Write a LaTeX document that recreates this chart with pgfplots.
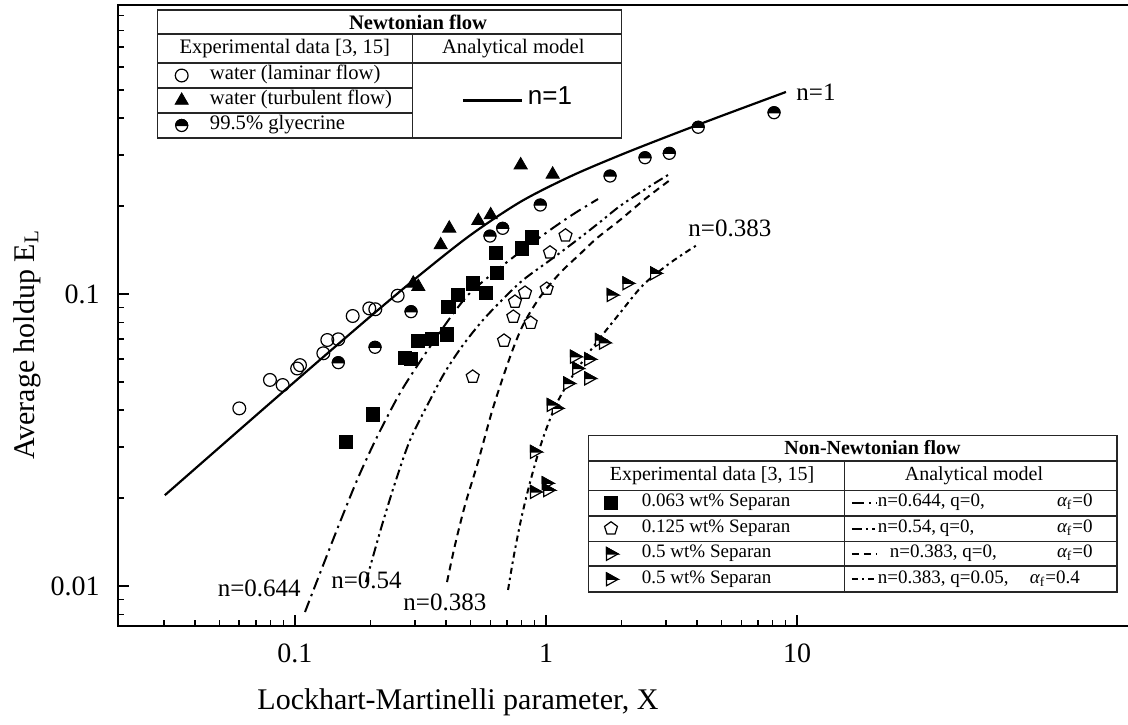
\documentclass[border=0pt]{standalone}
\usepackage{fontspec}
\setmainfont{Liberation Serif}
\newfontfamily\arialfont{Liberation Sans}
\usepackage{pgfplots}
\pgfplotsset{compat=1.18}

% right-pointing triangle with the upper half filled
\pgfdeclareplotmark{halftri}{%
  \pgfsetfillcolor{white}%
  \pgfpathmoveto{\pgfqpoint{1.1\pgfplotmarksize}{0pt}}%
  \pgfpathlineto{\pgfqpoint{-0.7\pgfplotmarksize}{\pgfplotmarksize}}%
  \pgfpathlineto{\pgfqpoint{-0.7\pgfplotmarksize}{-\pgfplotmarksize}}%
  \pgfpathclose
  \pgfusepathqfillstroke
  \pgfsetfillcolor{black}%
  \pgfpathmoveto{\pgfqpoint{1.1\pgfplotmarksize}{0pt}}%
  \pgfpathlineto{\pgfqpoint{-0.7\pgfplotmarksize}{\pgfplotmarksize}}%
  \pgfpathlineto{\pgfqpoint{-0.7\pgfplotmarksize}{0pt}}%
  \pgfpathclose
  \pgfusepathqfillstroke
}
% circle with the upper half filled
\pgfdeclareplotmark{halfcirc}{%
  \pgfsetfillcolor{white}%
  \pgfpathcircle{\pgfpointorigin}{\pgfplotmarksize}%
  \pgfusepathqfillstroke
  \pgfsetfillcolor{black}%
  \pgfpathmoveto{\pgfqpoint{\pgfplotmarksize}{0pt}}%
  \pgfpatharc{0}{180}{\pgfplotmarksize}%
  \pgfpathclose
  \pgfusepathqfillstroke
}

\pgfplotsset{
  every axis/.append style={
    scale only axis, width=511pt, height=310.5pt,
    xmin=0.01972, xmax=232.5, ymin=0.0073, ymax=0.9766,
    xtick={0.1,1,10}, xticklabels={0.1,1,10},
    minor xtick={0.03,0.04,0.05,0.06,0.07,0.08,0.09,0.2,0.3,0.4,0.5,0.6,0.7,0.8,0.9,2,3,4,5,6,7,8,9},
    ytick={0.01,0.1}, yticklabels={0.01,0.1},
    minor ytick={0.008,0.009,0.02,0.03,0.04,0.05,0.06,0.07,0.08,0.09,0.2,0.3,0.4,0.5,0.6,0.7,0.8,0.9},
    tick align=inside, xtick pos=left, ytick pos=left,
    major tick length=5.5pt, minor tick length=2.8pt,
    major tick style={black, line width=0.8pt},
    minor tick style={black, line width=0.8pt},
    axis line style={line width=1pt},
    tick label style={font=\fontsize{14}{16}\selectfont},
    xticklabel style={anchor=center, yshift=-13.5pt},
    yticklabel style={anchor=east, inner sep=0pt, xshift=-9pt},
    legend cell align=left,
  },
  nwimg/.style={legend image code/.code={%
      \path[draw=none, fill=none] (0pt,-5pt) rectangle (26.35pt,5pt);
      \draw[##1] plot coordinates {(12.2pt,0pt)};}},
  nnimg/.style={legend image code/.code={%
      \path[draw=none, fill=none] (0pt,-5pt) rectangle (26.7pt,5pt);
      \draw[##1] plot coordinates {(11.2pt,0pt)};}},
  nwline/.style={legend image code/.code={%
      \path[draw=none, fill=none] (0pt,-5pt) rectangle (57.85pt,5pt);
      \draw[##1] (25.35pt,0pt) -- (54.7pt,0pt);}},
  nnline/.style={legend image code/.code={%
      \path[draw=none, fill=none] (0pt,-5pt) rectangle (16.75pt,5pt);
      \draw[##1] (3.75pt,0pt) -- (16.25pt,0pt);}},
  lamst/.style={only marks, mark=o, mark size=3.2pt, mark options={fill=white, line width=0.6pt}},
  turst/.style={only marks, mark=triangle*, mark size=3.8pt, mark options={fill=black}},
  glyst/.style={only marks, mark=halfcirc, mark size=3.0pt, mark options={line width=0.6pt}},
  sqst/.style={only marks, mark=square*, mark size=3.3pt, mark options={fill=black}},
  pentst/.style={only marks, mark=pentagon, mark size=3.4pt, mark options={fill=white, line width=0.6pt}},
  trist/.style={only marks, mark=halftri, mark size=3.2pt, mark options={line width=0.6pt}},
  cA/.style={black, line width=1pt, dash pattern=on 6pt off 2.5pt on 1.2pt off 2.5pt},
  cB/.style={black, line width=1pt, dash pattern=on 5pt off 2pt on 1.2pt off 2pt on 1.2pt off 2pt},
  cC/.style={black, line width=1pt, dash pattern=on 3.5pt off 2.5pt},
  cD/.style={black, line width=1pt, dash pattern=on 3pt off 2pt on 1.2pt off 2pt},
}

\begin{document}
\begin{tikzpicture}
% Newtonian data and the n=1 model
\begin{loglogaxis}[at={(0pt,0pt)}, anchor=south west,
  legend columns=2,
  legend style={draw=none, fill=none, inner sep=0pt, outer sep=0pt,
    row sep=0pt, column sep=0pt, at={(0.03845,0.9066)}, anchor=north west,
    nodes={inner sep=0pt, text height=8pt, text depth=4.5pt, font=\fontsize{10.3}{12}\selectfont}},
]
\addplot[black, line width=1.1pt, smooth, forget plot] coordinates {
  (0.0303,0.02047) (0.0501,0.02989) (0.0794,0.04224) (0.1259,0.05958) (0.1995,0.08374)
  (0.3162,0.1167) (0.5012,0.1594) (0.7943,0.2073) (1.2589,0.2535) (1.9953,0.3001)
  (3.1623,0.3507) (5.0119,0.4076) (9.036,0.492)};
\addplot[lamst, forget plot] coordinates {
  (0.060,0.0406) (0.0795,0.0508) (0.0893,0.0488) (0.102,0.0556) (0.1047,0.0571)
  (0.1297,0.0627) (0.1345,0.0696) (0.1488,0.0700) (0.1698,0.0841) (0.1977,0.0893)
  (0.2089,0.0887) (0.2565,0.0987)};
\addplot[turst, forget plot] coordinates {
  (0.296,0.1088) (0.310,0.106) (0.3806,0.1472) (0.4117,0.1679) (0.5372,0.1782)
  (0.6021,0.1865) (0.7929,0.2765) (1.063,0.257)};
\addplot[glyst, forget plot] coordinates {
  (0.1488,0.0582) (0.2084,0.0657) (0.290,0.0870) (0.598,0.1579) (0.672,0.1679)
  (0.949,0.2017) (1.80,0.2535) (2.48,0.2929) (3.10,0.3032) (4.04,0.3724) (8.10,0.4177)};

\addlegendimage{nwimg, lamst}
\addlegendentry{\makebox[101.15pt][l]{water (laminar flow)}}
\addlegendimage{empty legend}
\addlegendentry{}
\addlegendimage{nwimg, turst}
\addlegendentry{water (turbulent flow)}
\addlegendimage{nwline, black, line width=1.1pt}
\addlegendentry{{\arialfont\fontsize{13}{15}\selectfont n=1}}
\addlegendimage{nwimg, glyst}
\addlegendentry{99.5\% glyecrine}
\addlegendimage{empty legend}
\addlegendentry{}

\node[anchor=west, inner sep=0pt, font=\fontsize{12.5}{14}\selectfont] at (axis cs:9.91,0.492) {n=1};
\node[anchor=west, inner sep=0pt, font=\fontsize{12.5}{14}\selectfont] at (axis cs:3.68,0.168) {n=0.383};
\node[anchor=east, inner sep=0pt, font=\fontsize{12.5}{14}\selectfont] at (axis cs:0.1057,0.00984) {n=0.644};
\node[anchor=west, inner sep=0pt, font=\fontsize{12.5}{14}\selectfont] at (axis cs:0.139,0.0105) {n=0.54};
\node[anchor=west, inner sep=0pt, font=\fontsize{12.5}{14}\selectfont] at (axis cs:0.2694,0.00882) {n=0.383};
\end{loglogaxis}

% non-Newtonian data and models
\begin{loglogaxis}[at={(0pt,0pt)}, anchor=south west, hide axis,
  legend columns=2,
  legend style={draw=none, fill=none, inner sep=0pt, outer sep=0pt,
    row sep=0pt, column sep=0pt, at={(0.46047,0.21836)}, anchor=north west,
    nodes={inner sep=0pt, text height=8.2pt, text depth=4.5pt, font=\fontsize{9.5}{12}\selectfont}},
]
\addplot[cA, smooth, forget plot] coordinates {
  (0.1096,0.00815) (0.1281,0.01152) (0.1511,0.01656) (0.1782,0.02344) (0.2122,0.0324)
  (0.262,0.0458) (0.3236,0.0608) (0.4145,0.0828) (0.4977,0.1008) (0.6378,0.1208)
  (0.788,0.1392) (1.037,0.1656) (1.305,0.1894) (1.612,0.2115)};
\addplot[cB, smooth, forget plot] coordinates {
  (0.1918,0.01032) (0.2027,0.01227) (0.2222,0.01618) (0.2503,0.02253) (0.2873,0.0316)
  (0.345,0.04335) (0.396,0.05406) (0.4669,0.06689) (0.561,0.08147) (0.674,0.0961)
  (0.810,0.1117) (1.066,0.1328) (1.329,0.1531) (1.641,0.1764) (1.971,0.2001)
  (2.526,0.2307) (3.062,0.2556)};
\addplot[cC, smooth, forget plot] coordinates {
  (0.4033,0.01032) (0.4339,0.01381) (0.4757,0.01894) (0.5359,0.02659) (0.6149,0.04071)
  (0.7188,0.06083) (0.810,0.07833) (0.9465,0.09766) (1.137,0.118) (1.366,0.1371)
  (1.597,0.1555) (1.971,0.1792) (2.480,0.2115) (3.119,0.2457)};
\addplot[cD, smooth, forget plot] coordinates {
  (0.706,0.0097) (0.7455,0.01277) (0.8025,0.0175) (0.8794,0.024) (0.9727,0.0321)
  (1.096,0.0417) (1.246,0.0508) (1.43,0.0604) (1.641,0.0707) (1.971,0.0861)
  (2.435,0.1073) (3.119,0.1277) (3.996,0.1472)};
\addplot[sqst, forget plot] coordinates {
  (0.1597,0.0312) (0.2051,0.0387) (0.2744,0.0605) (0.2890,0.0600) (0.3099,0.0692)
  (0.3504,0.0701) (0.4021,0.0728) (0.4081,0.0905) (0.4472,0.0992) (0.5105,0.1088)
  (0.5768,0.1006) (0.6361,0.1183) (0.632,0.1384) (0.800,0.1434) (0.877,0.1563)};
\addplot[pentst, forget plot] coordinates {
  (0.5105,0.0521) (0.6804,0.0692) (0.741,0.0836) (0.7524,0.0941) (0.8249,0.101)
  (0.869,0.0797) (1.0065,0.1042) (1.037,0.1387) (1.196,0.1586)};
\addplot[trist, forget plot] coordinates {
  (0.904,0.0288) (0.904,0.021) (1.103,0.0406) (1.227,0.0494) (1.332,0.0556)
  (1.488,0.0514) (1.641,0.0696) (1.827,0.0992)};
\addplot[trist, forget plot] coordinates {
  (1.0065,0.0225) (1.021,0.0213) (1.054,0.0417) (1.305,0.061) (1.488,0.0598)
  (1.702,0.0681) (2.11,0.1088) (2.72,0.1177)};

\addlegendimage{nnimg, sqst}
\addlegendentry{\makebox[101.25pt][l]{0.063 wt\% Separan}}
\addlegendimage{nnline, cA}
\addlegendentry{\makebox[89.5pt][l]{n=0.644, q=0,}{\itshape α}\textsubscript{f}=0}
\addlegendimage{nnimg, pentst}
\addlegendentry{0.125 wt\% Separan}
\addlegendimage{nnline, cB}
\addlegendentry{\makebox[31pt][l]{n=0.54,}\makebox[58.5pt][l]{q=0,}{\itshape α}\textsubscript{f}=0}
\addlegendimage{nnimg, trist}
\addlegendentry{0.5 wt\% Separan}
\addlegendimage{nnline, cC}
\addlegendentry{\hspace*{6pt}\makebox[83.5pt][l]{n=0.383, q=0,}{\itshape α}\textsubscript{f}=0}
\addlegendimage{nnimg, trist}
\addlegendentry{0.5 wt\% Separan}
\addlegendimage{nnline, cD}
\addlegendentry{\makebox[76pt][l]{n=0.383, q=0.05,}{\itshape α}\textsubscript{f}=0.4}
\end{loglogaxis}

% table frames of the two legends
\begin{scope}[line width=0.7pt, draw=black!85]
  \draw (19.65pt,244pt) rectangle (251.85pt,308pt);
  \draw (19.65pt,296pt) -- (251.85pt,296pt);
  \draw (19.65pt,281.5pt) -- (251.85pt,281.5pt);
  \draw (19.65pt,269pt) -- (147.15pt,269pt);
  \draw (19.65pt,256.5pt) -- (147.15pt,256.5pt);
  \draw (147.15pt,296pt) -- (147.15pt,244pt);
  \draw (235.3pt,17pt) rectangle (499.5pt,95.35pt);
  \draw (235.3pt,82.5pt) -- (499.5pt,82.5pt);
  \draw (235.3pt,67.8pt) -- (499.5pt,67.8pt);
  \draw (235.3pt,55pt) -- (499.5pt,55pt);
  \draw (235.3pt,42.3pt) -- (499.5pt,42.3pt);
  \draw (235.3pt,30pt) -- (499.5pt,30pt);
  \draw (363.25pt,82.5pt) -- (363.25pt,17pt);
\end{scope}
\begin{scope}[every node/.style={inner sep=0pt, font=\fontsize{10.3}{12}\selectfont}]
  \node[font=\fontsize{10.3}{12}\selectfont\bfseries] at (150pt,302pt) {Newtonian flow};
  \node at (83.4pt,288.75pt) {Experimental data [3, 15]};
  \node at (197.65pt,288.75pt) {Analytical model};
  \node[font=\fontsize{10}{12}\selectfont\bfseries] at (377.25pt,89pt) {Non-Newtonian flow};
  \node[font=\fontsize{10}{12}\selectfont] at (297pt,75.15pt) {Experimental data [3, 15]};
  \node[font=\fontsize{10}{12}\selectfont] at (428pt,75.15pt) {Analytical model};
\end{scope}

% axis titles
\node[rotate=90, font=\fontsize{15}{18}\selectfont] at (-45.5pt,140.5pt) {Average holdup E\textsubscript{L}};
\node[font=\fontsize{15}{18}\selectfont] at (170pt,-38pt) {Lockhart-Martinelli parameter, X};

\pgfresetboundingbox
\path[use as bounding box] (-59pt,-49pt) rectangle (505pt,313pt);
\end{tikzpicture}
\end{document}
